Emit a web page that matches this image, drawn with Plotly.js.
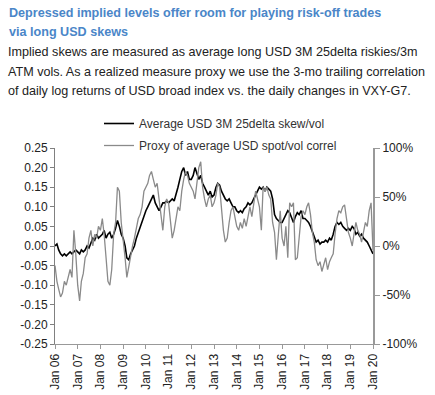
<!DOCTYPE html>
<html>
<head>
<meta charset="utf-8">
<script src="https://cdn.plot.ly/plotly-3.0.1.min.js"></script>
<style>html,body{margin:0;padding:0;background:#fff;}#chart{width:435px;height:395px;}</style>
</head>
<body>
<div id="chart"></div>
<script>
// Monthly observations, Jan 2006 .. Jan 2020
const startYear = 2006;
const skewVol = [
  0.00, 0.005, -0.01, -0.02, -0.025, -0.02, -0.025, -0.02, -0.015, -0.02, -0.015, -0.01,
  -0.015, -0.02, -0.01, -0.015, -0.01, 0.0, -0.005, 0.01, 0.02, 0.015, 0.03, 0.02,
  0.025, 0.03, 0.04, 0.02, 0.03, 0.035, 0.02, 0.03, 0.045, 0.065, 0.05, 0.03,
  0.02, 0.0, -0.03, -0.035, -0.02, -0.01, 0.0, 0.02, 0.035, 0.05, 0.065, 0.075,
  0.09, 0.10, 0.11, 0.12, 0.13, 0.11, 0.10, 0.09, 0.10, 0.11, 0.11, 0.115,
  0.11, 0.115, 0.12, 0.115, 0.13, 0.15, 0.17, 0.19, 0.20, 0.18, 0.19, 0.17,
  0.17, 0.18, 0.20, 0.185, 0.17, 0.18, 0.16, 0.15, 0.14, 0.13, 0.14, 0.125,
  0.13, 0.15, 0.16, 0.155, 0.14, 0.13, 0.12, 0.115, 0.12, 0.11, 0.10, 0.10,
  0.09, 0.085, 0.09, 0.085, 0.095, 0.10, 0.11, 0.105, 0.11, 0.12, 0.13, 0.14,
  0.15, 0.145, 0.15, 0.14, 0.15, 0.145, 0.14, 0.12, 0.08, 0.07, 0.065, 0.06,
  0.06, 0.07, 0.08, 0.09, 0.085, 0.07, 0.06, 0.075, 0.085, 0.08, 0.09, 0.07,
  0.07, 0.065, 0.06, 0.05, 0.035, 0.02, 0.01, 0.015, 0.005, 0.01, 0.01, 0.015,
  0.01, 0.02, 0.015, 0.03, 0.05, 0.06, 0.055, 0.06, 0.05, 0.045, 0.04, 0.045,
  0.04, 0.05, 0.045, 0.03, 0.035, 0.025, 0.03, 0.02, 0.015, 0.01, 0.0, -0.01,
  -0.02
];
const spotVolCorrel = [ // percent
  -20, -36, -44, -52, -48, -36, -40, -32, -24, -32, 16, -8,
  -40, -56, -36, -28, -12, -8, 8, 16, 0, 12, 8, 20,
  16, 28, 12, -12, -36, -40, -24, 12, 24, 60, 56, 24,
  8, -12, -32, -20, -8, 0, 8, 20, 28, 32, 40, 56,
  60, 64, 72, 76, 68, 60, 64, 48, 32, 16, 40, 48,
  44, 28, 8, 16, 28, 40, 36, 56, 68, 76, 72, 64,
  60, 56, 48, 64, 80, 86, 60, 48, 40, 48, 52, 40,
  44, 52, 64, 60, 36, 16, 4, 8, 24, 36, 40, 28,
  20, 16, 24, 18, 28, 20, 32, 40, 30, 44, 56, 48,
  40, 16, 60, 56, 60, 52, 48, 24, 14, -14, 16, 36,
  8, 0, 20, -12, 44, 40, 44, -14, -12, 8, 30, 36,
  32, 40, 44, 32, 14, 4, -14, -20, -16, -26, -20, -12,
  -24, -16, -12, -8, 12, 28, 36, 34, 40, 42, 28, 14,
  8, 0, 12, 24, 16, 12, 4, 16, 24, 20, 36, 44,
  -4
];
const xTickLabels = ['Jan 06','Jan 07','Jan 08','Jan 09','Jan 10','Jan 11','Jan 12','Jan 13','Jan 14','Jan 15','Jan 16','Jan 17','Jan 18','Jan 19','Jan 20'];
const leftTickVals = [0.25,0.20,0.15,0.10,0.05,0.00,-0.05,-0.10,-0.15,-0.20,-0.25];
const leftTickText = ['0.25','0.20','0.15','0.10','0.05','0.00','-0.05','-0.10','-0.15','-0.20','-0.25'];
const rightTickVals = [100,50,0,-50,-100];
const rightTickText = ['100%','50%','0%','-50%','-100%'];
const seriesNames = ['Average USD 3M 25delta skew/vol','Proxy of average USD spot/vol correl'];

function monthDate(i){
  const y = startYear + Math.floor(i/12);
  const m = (i % 12) + 1;
  return y + '-' + (m < 10 ? '0' + m : m) + '-01';
}
const dates = skewVol.map((_, i) => monthDate(i));
const xTickVals = xTickLabels.map((_, i) => (startYear + i) + '-01-01');

const font = 'Liberation Sans, Arial, sans-serif';
const traces = [
  {x: dates, y: spotVolCorrel, yaxis: 'y2', type: 'scatter', mode: 'lines', name: seriesNames[1],
   line: {color: '#8a8a8a', width: 1.3}, legendrank: 2, legendgroup: 'b'},
  {x: dates, y: skewVol, yaxis: 'y', type: 'scatter', mode: 'lines', name: seriesNames[0],
   line: {color: '#000000', width: 1.6}, legendrank: 1, legendgroup: 'a'}
];

const L = 55, R = 62, T = 148, B = 51, W = 435, H = 395;
const ph = H - T - B, pw = W - L - R;
const py = p => (H - B - p) / ph;
const px = p => (p - L) / pw;

const ann = (text, x, y, size, color, bold) => ({
  text: bold ? '<b>' + text + '</b>' : text, xref: 'paper', yref: 'paper', x: px(x), y: py(y),
  xanchor: 'left', yanchor: 'middle', showarrow: false,
  font: {family: font, size: size, color: color}
});

const layout = {
  width: W, height: H,
  margin: {l: L, r: R, t: T, b: B},
  paper_bgcolor: '#ffffff', plot_bgcolor: '#ffffff',
  font: {family: font, size: 12, color: '#222'},
  showlegend: true,
  legend: {x: px(99), y: py(109), xanchor: 'left', yanchor: 'top', bgcolor: 'rgba(0,0,0,0)',
           font: {family: font, size: 12, color: '#333'}, traceorder: 'grouped', tracegroupgap: 3},
  xaxis: {type: 'date', range: ['2006-01-01', '2020-01-01'], tickvals: xTickVals, ticktext: xTickLabels,
          tickangle: -90, ticks: 'outside', ticklen: 4, tickcolor: '#999', showline: true, linecolor: '#999',
          linewidth: 1, showgrid: false, zeroline: false, tickfont: {size: 12, color: '#222'}},
  yaxis: {range: [-0.25, 0.25], tickvals: leftTickVals, ticktext: leftTickText, ticks: 'outside', ticklen: 4,
          tickcolor: '#808080', showline: true, linecolor: '#808080', linewidth: 1, showgrid: false, zeroline: false,
          tickfont: {size: 12, color: '#222'}},
  yaxis2: {range: [-100, 100], overlaying: 'y', side: 'right', tickvals: rightTickVals, ticktext: rightTickText,
           ticks: 'outside', ticklen: 5, tickcolor: '#999', showline: true, linecolor: '#999', linewidth: 2,
           showgrid: false, zeroline: false, tickfont: {size: 12, color: '#222'}},
  annotations: [
    ann('Depressed implied levels offer room for playing risk-off trades', 7, 13, 12.6, '#4a86c8', true),
    ann('via long USD skews', 7, 32, 12.6, '#4a86c8', true),
    ann('Implied skews are measured as average long USD 3M 25delta riskies/3m', 6, 52, 12.6, '#222', false),
    ann('ATM vols. As a realized measure proxy we use the 3-mo trailing correlation', 6, 72, 12.6, '#222', false),
    ann('of daily log returns of USD broad index vs. the daily changes in VXY-G7.', 6, 91, 12.6, '#222', false)
  ]
};

Plotly.newPlot('chart', traces, layout, {displayModeBar: false, staticPlot: true});
</script>
</body>
</html>
